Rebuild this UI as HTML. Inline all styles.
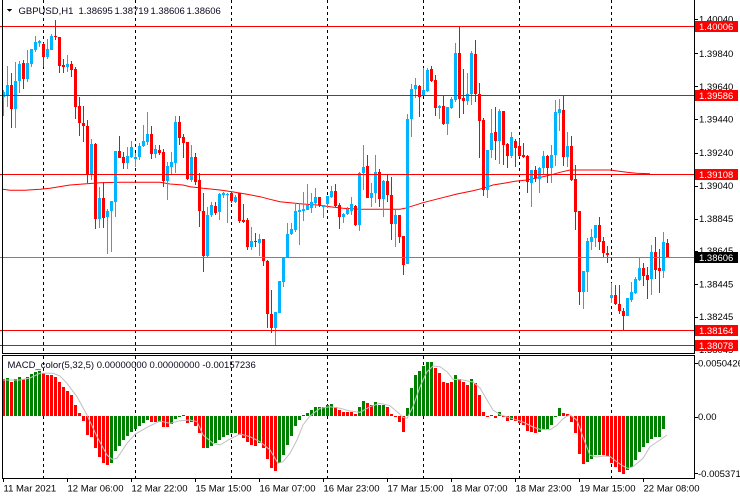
<!DOCTYPE html>
<html><head><meta charset="utf-8">
<style>
html,body{margin:0;padding:0;background:#fff;overflow:hidden;}
svg{display:block;}
text{font-family:"Liberation Sans",Arial,sans-serif;font-size:9.5px;fill:#000;}
</style></head>
<body>
<svg id="c" width="740" height="500" xmlns="http://www.w3.org/2000/svg" shape-rendering="crispEdges">
<rect x="0" y="0" width="740" height="500" fill="#fff"/>
<g id="grid" stroke="#000" stroke-width="1" stroke-dasharray="3,3"></g>
<polyline id="ma" fill="none" stroke="#ff0000" stroke-width="1" shape-rendering="auto"/>
<g id="candles"></g>
<g id="hlines"></g>
<g id="macd"></g>
<polyline id="sig" fill="none" stroke="#c0c0c0" stroke-width="1" shape-rendering="auto"/>
<!-- borders -->
<rect x="2" y="0" width="1" height="354" fill="#000"/>
<rect x="694" y="0" width="1" height="354" fill="#000"/>
<rect x="2" y="353" width="693" height="1" fill="#000"/>
<rect x="2" y="355" width="693" height="1" fill="#000"/>
<rect x="2" y="355" width="1" height="124" fill="#000"/>
<rect x="694" y="355" width="1" height="124" fill="#000"/>
<rect x="2" y="478" width="693" height="1" fill="#000"/>
<g id="axis"></g>
<!-- header -->
<polygon points="7,9 12,9 9.5,12" fill="#000"/>
<text x="18.5" y="14" style="fill:#0a0a1e">GBPUSD,H1</text>
<text x="78.5" y="14" style="fill:#0a0a1e">1.38695</text>
<text x="114.5" y="14" style="fill:#0a0a1e">1.38719</text>
<text x="150.5" y="14" style="fill:#0a0a1e">1.38606</text>
<text x="186.5" y="14" style="fill:#0a0a1e">1.38606</text>
<text x="7.5" y="368" style="fill:#0a0a1e">MACD_color(5,32,5) 0.00000000 0.00000000 -0.00157236</text>
</svg>
<script>
(function(){
var NS="http://www.w3.org/2000/svg";
function el(tag,attrs,parent,txt){var e=document.createElementNS(NS,tag);for(var k in attrs)e.setAttribute(k,attrs[k]);if(txt!==undefined)e.textContent=txt;parent.appendChild(e);return e;}
function Y(z){return Math.round(10+z/3);}
var C=[
['b',240,318,245,260],['b',168,290,225,258],['r',188,355,225,297],['b',155,355,213,297],['b',152,250,162,213],
['r',150,238,160,207],['b',120,215,160,207],['b',117,170,117,162],['b',78,125,96,120],['b',90,110,93,98],
['r',100,170,102,142],['b',88,148,118,142],['b',72,120,77,119],['r',30,90,78,82],['r',80,188,82,167],
['r',148,190,165,170],['b',135,185,162,172],['r',152,202,162,180],['r',172,327,177,290],['r',262,378,288,340],
['r',287,397,340,347],['r',330,518,347,492],['b',388,510,402,492],['r',398,656,402,628],['b',532,655,565,628],
['r',515,655,565,625],['b',598,733,603,622],['b',573,725,573,604],['b',423,622,423,575],['r',378,445,423,443],
['r',426,477,440,460],['b',412,478,437,460],['b',392,445,412,440],['b',428,470,440,447],['b',400,450,407,442],
['b',345,410,393,407],['b',305,405,372,395],['r',348,447,372,432],['b',405,445,417,432],['r',405,435,420,428],
['r',418,532,426,512],['b',455,570,467,512],['b',425,495,456,470],['b',318,490,335,458],['r',318,405,335,385],
['r',372,445,380,398],['r',395,510,397,508],['b',405,515,440,510],['r',430,525,440,515],['r',490,650,510,603],
['r',548,785,603,738],['b',590,740,615,738],['b',575,620,585,615],['r',575,615,588,608],['b',550,630,552,605],
['b',545,565,550,555],['b',550,640,552,555],['r',545,580,550,572],['b',555,580,562,575],['r',550,638,550,633],
['r',582,640,630,635],['r',625,720,630,710],['b',650,720,693,710],['r',670,710,692,697],['b',672,738,688,698],
['r',688,768,688,752],['r',750,955,752,913],['r',840,968,913,953],['b',905,1005,907,955],['b',812,910,814,908],
['b',740,830,740,815],['b',640,745,672,742],['b',638,675,657,673],['b',578,665,603,660],['b',578,705,600,605],
['b',545,632,597,602],['b',522,600,585,600],['b',550,610,577,593],['b',535,595,560,580],['r',560,592,560,585],
['b',585,625,585,592],['b',558,595,558,583],['b',528,565,543,562],['r',522,590,543,588],['r',578,658,585,622],
['b',610,640,612,622],['b',592,615,598,612],['b',562,615,582,602],['r',585,648,587,645],['b',485,662,488,645],
['b',405,540,470,490],['r',435,565,468,563],['b',520,590,548,563],['b',435,580,487,550],['r',478,590,487,568],
['b',510,620,513,568],['r',495,575,513,555],['r',500,690,555,643],['b',600,712,615,643],['r',615,700,615,680],
['r',678,795,678,765],['b',312,762,327,762],['b',222,382,237,327],['b',205,265,225,237],['r',225,322,228,262],
['b',175,258,240,255],['b',175,245,180,242],['r',168,215,178,212],['r',195,318,210,293],['b',285,328,288,293],
['r',258,345,288,342],['b',290,375,292,342],['b',260,298,267,293],['b',100,275,128,270],['r',48,325,128,268],
['r',178,312,263,272],['b',190,285,253,272],['b',122,285,130,253],['r',90,275,132,253],['r',218,445,252,333],
['r',323,557,330,540],['b',420,565,420,540],['b',297,445,368,420],['r',290,450,367,393],['b',298,462,302,393],
['r',303,465,303,405],['r',400,475,402,438],['b',365,445,380,438],['r',388,472,393,413],['r',388,440,408,438],
['r',400,445,435,440],['r',435,548,437,517],['b',480,590,480,518],['r',468,515,480,505],['b',470,548,473,507],
['b',423,495,438,475],['r',435,520,438,473],['b',405,518,435,473],['b',270,468,305,435],['b',268,362,297,308],
['r',258,468,300,440],['b',365,470,408,440],['r',378,512,408,510],['r',465,660,507,605],['r',603,885,603,845],
['b',783,898,783,845],['b',685,845,693,785],['b',657,720,680,695],['b',645,712,645,683],['r',622,720,645,695],
['r',680,745,693,730],['r',708,758,728,735],['b',820,880,855,863],['r',825,885,855,883],['r',825,912,882,902],
['r',895,962,903,918],['b',865,918,865,918],['b',815,875,846,870],['b',800,852,808,850],['b',742,812,773,810],
['r',760,828,773,797],['r',770,866,795,810],['b',705,855,725,808],['r',682,808,725,780],['r',718,848,775,782],
['b',665,803,695,782],['r',687,742,698,742]
];
var BLUE="#00b4ff",RED="#ff0000";
var cg=document.getElementById('candles');
for(var i=0;i<C.length;i++){
 var c=C[i],col=c[0]=='b'?BLUE:RED;
 var wt=Y(c[1]),wb=Y(c[2]),bt=Y(c[3]),bb=Y(c[4]);
 el('rect',{x:4*i+3,y:wt,width:1,height:Math.max(1,wb-wt),fill:col},cg);
 el('rect',{x:4*i+2,y:bt,width:3,height:Math.max(1,bb-bt),fill:col},cg);
}
var gg=document.getElementById('grid');
[43,135,231,327,423,519,611].forEach(function(x){
 el('line',{x1:x+0.5,y1:0,x2:x+0.5,y2:353},gg);
 el('line',{x1:x+0.5,y1:356,x2:x+0.5,y2:478},gg);
});
var MA=[[3,189.3],[10,190.3],[25,190.3],[40,189.3],[50,188.3],[70,185],[100,182.7],[120,182.3],[160,182.3],[170,184],[183,185],[190,186.7],[203,188.3],[220,190],[232,191.7],[247,194.3],[260,196.7],[270,199.3],[280,201.7],[290,202.7],[303,204],[317,205],[330,206.7],[343,208.3],[360,209.3],[400,209.3],[405,208.3],[423,202.7],[440,198.3],[457,194],[473,190.7],[483,188.3],[493,185],[507,182.7],[515,181.3],[527,180],[543,176.7],[553,174.3],[560,172.3],[570,170],[610,170],[617,171],[627,172.3],[637,173.3],[650,173.7]];
document.getElementById('ma').setAttribute('points',MA.map(function(p){return p[0]+','+p[1];}).join(' '));
var hg=document.getElementById('hlines');
var ag=document.getElementById('axis');
var ticks=[['1.40040',19],['1.39840',53.4],['1.39640',86.4],['1.39440',119],['1.39240',152.5],['1.39040',185.5],['1.38845',218.5],['1.38645',250.6],['1.38445',284],['1.38245',316.7],['1.38045',349.6]];
ticks.forEach(function(t){
 el('rect',{x:695,y:Math.round(t[1]),width:3,height:1,fill:'#000'},ag);
 el('text',{x:699,y:(t[1]+3.5).toFixed(1)},ag,t[0]);
});
var HL=[['1.40006',26,RED],['1.39586',95,RED],['1.39108',174,RED],['1.38606',257,'#808080'],['1.38164',330,RED],['1.38078',345,RED]];
HL.forEach(function(h){
 el('rect',{x:0,y:h[1],width:694,height:1,fill:h[2]},hg);
 var bg=h[2]==RED?RED:'#000';
 el('rect',{x:695,y:h[1]-5,width:43,height:11,fill:bg},ag);
 el('text',{x:699,y:h[1]+4,style:'fill:#fff'},ag,h[0]);
});
var M=[
['r',379],['g',377.7],['r',381.7],['g',379.3],['g',376.7],['r',379],['g',376.7],['g',373.7],['g',371.7],['g',371],
['r',373.3],['r',374.7],['r',375.3],['r',376.7],['r',381.7],['r',386.7],['r',391],['r',395],['r',405],['r',412.7],
['r',420.7],['r',435],['r',436.7],['r',448.3],['r',456.7],['r',462.7],['r',465],['g',462.7],['g',450.7],['g',446],
['g',440],['g',436],['g',431.7],['g',429.3],['g',426],['g',422.7],['g',420],['r',421.7],['r',421.7],['g',421.7],
['r',427.3],['r',427.3],['g',424],['g',419],['g',417],['g',415],['r',422.7],['g',421.7],['r',426],['r',433.3],
['r',448.3],['g',448.3],['g',446],['g',443.3],['g',440],['g',436.7],['g',435],['g',433.3],['g',432.7],['r',435],
['r',437.7],['r',442.3],['r',445],['r',445.7],['g',443.3],['r',448.3],['r',459.3],['r',468.3],['r',470.7],['g',463.3],
['g',455],['g',445],['g',436],['g',426],['g',420],['g',415],['g',412.7],['g',410],['g',406.7],['g',406.7],
['g',406.7],['g',405],['g',404],['r',406.7],['r',410],['r',411.7],['r',411.7],['r',411.7],['r',414],['g',406.7],
['g',401],['r',403.3],['r',405],['g',401.7],['g',405],['g',405],['r',406.7],['r',414],['r',417],['r',421.7],
['r',431.7],['g',408.3],['g',388.3],['g',375],['g',371],['g',365.7],['g',361.7],['g',361.7],['r',368.3],['r',372.7],
['r',381.7],['r',382.7],['r',381.7],['g',375],['r',379.3],['r',381.7],['r',385],['g',379.3],['r',383.3],['r',395],
['r',412],['r',417],['g',415],['r',417.7],['g',412],['r',417],['r',421],['g',420],['r',421],['r',423],
['r',424.7],['r',431],['r',432],['r',432.7],['g',432],['g',429.3],['g',429.3],['g',425.3],['g',417],['g',408],
['r',413],['r',413.7],['r',422],['r',432.7],['r',453.7],['r',463.7],['g',462],['g',459.3],['g',455.3],['g',455.3],
['r',455.3],['r',456],['r',462.7],['r',467],['r',472],['r',473.7],['g',470],['g',466.7],['g',460],['g',451.7],
['g',446.7],['g',442.7],['g',439.3],['g',437.3],['g',436.7],['g',429.3]
];
var mg=document.getElementById('macd');
var Z=416;
for(var j=0;j<M.length;j++){
 var v=Math.round(M[j][1]),col=M[j][0]=='g'?'#008000':RED;
 var y0=Math.min(v,Z),h=Math.max(1,Math.abs(v-Z));
 el('rect',{x:4*j+2,y:y0,width:3,height:h,fill:col},mg);
}
var S=[[3,380],[20,380],[30,378],[40,373.3],[53,373.3],[60,376],[67,383.3],[77,396.7],[87,415],[97,436.7],[107,455],[112,459.3],[117,458.3],[127,443.3],[135,434.3],[147,427.3],[160,421],[170,423.3],[180,420.7],[190,420],[197,421.7],[203,435],[213,443.3],[220,445],[230,439],[240,434],[250,436.7],[260,441.7],[270,450],[278,463.3],[283,461.7],[290,453.3],[297,440],[303,425],[310,416],[320,408.3],[330,406.7],[340,408.3],[350,411],[360,412.3],[370,406.7],[380,403.3],[390,405.7],[397,411.7],[403,417.3],[407,418.3],[413,406.7],[420,386.7],[427,371.7],[433,366],[440,366.7],[447,371.7],[453,379.3],[463,380],[473,382],[480,388],[487,400],[493,410],[500,414.5],[507,417],[513,418.7],[523,422],[533,427],[540,429.3],[550,429.7],[557,425.3],[563,418.7],[570,414.7],[577,420.3],[583,437],[590,455.3],[597,457],[603,456],[610,456.5],[617,462],[623,466],[628,468.5],[633,466.7],[643,458.3],[650,446.7],[660,440],[667,435]];
document.getElementById('sig').setAttribute('points',S.map(function(p){return p[0]+','+p[1];}).join(' '));
[['0.0050426',363],['0.00',416.5],['-0.0053710',473.3]].forEach(function(t){
 el('rect',{x:695,y:Math.round(t[1]),width:3,height:1,fill:'#000'},ag);
 el('text',{x:698,y:(t[1]+3.5).toFixed(1)},ag,t[0]);
});
var TL=['11 Mar 2021','12 Mar 06:00','12 Mar 22:00','15 Mar 15:00','16 Mar 07:00','16 Mar 23:00','17 Mar 15:00','18 Mar 07:00','18 Mar 23:00','19 Mar 15:00','22 Mar 08:00'];
TL.forEach(function(t,k){
 var x=3+64*k;
 el('rect',{x:x,y:479,width:1,height:3,fill:'#000'},ag);
 el('text',{x:x+0.5,y:491.5},ag,t);
});
})();
</script>
</body></html>
